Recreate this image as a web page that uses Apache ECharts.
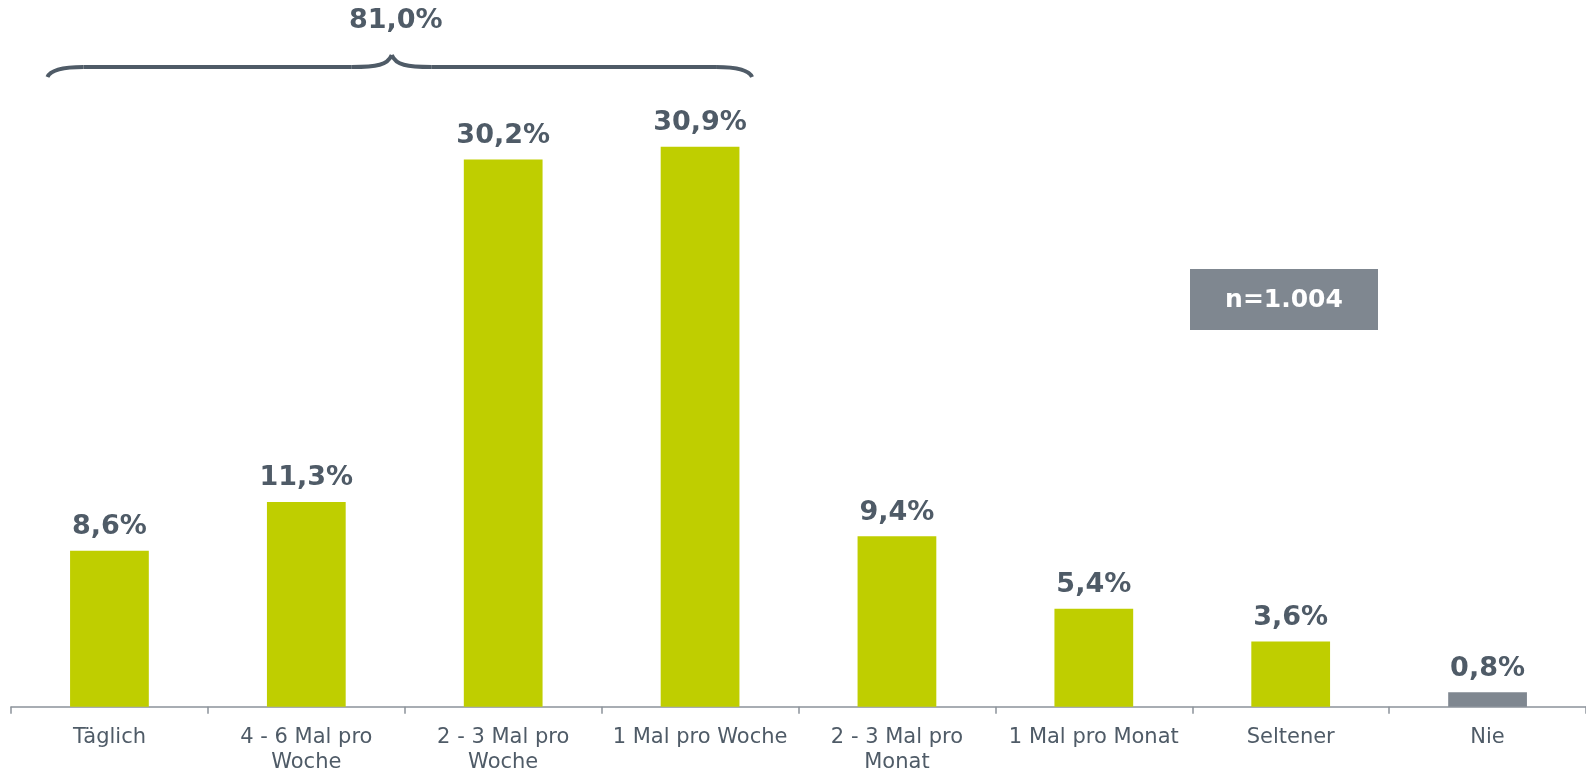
<!DOCTYPE html>
<html>
<head>
<meta charset="utf-8">
<script src="https://cdn.jsdelivr.net/npm/echarts@6/dist/echarts.min.js"></script>
<style>
  html, body { margin: 0; padding: 0; background: #fff; }
  #chart { width: 1586px; height: 771px; }
</style>
</head>
<body>
<div id="chart"></div>
<script>
// Frequency categories and their shares (percent)
const categories = [
  'Täglich',
  '4 - 6 Mal pro\nWoche',
  '2 - 3 Mal pro\nWoche',
  '1 Mal pro Woche',
  '2 - 3 Mal pro\nMonat',
  '1 Mal pro Monat',
  'Seltener',
  'Nie'
];
const shares = [8.6, 11.3, 30.2, 30.9, 9.4, 5.4, 3.6, 0.8];
// The first four categories are grouped under a brace with their total
const groupedCount = 4;
const sampleLabel = 'n=1.004';

const GREEN = '#bfce00';
const GREY_BAR = '#7f8790';
const TEXT = '#4f5b67';
const FONT = 'DejaVu Sans, Verdana, sans-serif';

const fmt = v => v.toFixed(1).replace('.', ',') + '%';
const groupTotal = shares.slice(0, groupedCount).reduce((a, b) => a + b, 0);

const chart = echarts.init(document.getElementById('chart'), null, { renderer: 'canvas' });

const option = {
  animation: false,
  backgroundColor: '#ffffff',
  grid: {
    left: 11, right: 0, top: 72.5, bottom: 64.3,
    containLabel: false,
    outerBoundsMode: 'none'
  },
  xAxis: {
    type: 'category',
    data: categories,
    boundaryGap: true,
    axisLine: { show: true, lineStyle: { color: '#8c939a', width: 1.5 } },
    axisTick: { show: true, length: 7, lineStyle: { color: '#8c939a', width: 1.5 } },
    axisLabel: {
      color: TEXT,
      fontFamily: FONT,
      fontSize: 21,
      lineHeight: 25,
      margin: 18,
      interval: 0
    }
  },
  yAxis: {
    type: 'value',
    min: 0,
    max: 35,
    show: false,
    splitLine: { show: false }
  },
  series: [{
    type: 'bar',
    data: shares.map((v, i) => ({
      value: v,
      itemStyle: { color: i === shares.length - 1 ? GREY_BAR : GREEN }
    })),
    barWidth: '40%',
    label: {
      show: true,
      position: 'top',
      distance: 10,
      color: TEXT,
      fontFamily: FONT,
      fontWeight: 'bold',
      fontSize: 27,
      formatter: p => fmt(p.value)
    }
  }]
};

chart.setOption(option);

// Brace over the grouped categories, with their total above it
function drawAnnotations() {
  const left = chart.convertToPixel({ xAxisIndex: 0 }, 0) - 62;
  const right = chart.convertToPixel({ xAxisIndex: 0 }, groupedCount - 1) + 52;
  const mid = (left + right) / 2 - 8;
  const yEnd = 77, yLine = 67, yTip = 55;
  const stroke = { fill: null, stroke: TEXT, lineWidth: 4 };

  const curve = (x1, y1, c1x, c1y, c2x, c2y, x2, y2) => ({
    type: 'bezierCurve',
    silent: true,
    shape: { x1, y1, cpx1: c1x, cpy1: c1y, cpx2: c2x, cpy2: c2y, x2, y2 },
    style: stroke
  });
  const seg = (x1, x2) => ({
    type: 'line',
    silent: true,
    shape: { x1, y1: yLine, x2, y2: yLine },
    style: stroke
  });

  chart.setOption({
    graphic: [
      curve(left, yEnd, left + 3, yLine + 3, left + 15, yLine, left + 36, yLine),
      seg(left + 36, mid - 40),
      curve(mid - 40, yLine, mid - 15, yLine, mid - 4, yLine - 2, mid, yTip),
      curve(mid, yTip, mid + 4, yLine - 2, mid + 15, yLine, mid + 40, yLine),
      seg(mid + 40, right - 36),
      curve(right - 36, yLine, right - 15, yLine, right - 3, yLine + 3, right, yEnd),
      {
        type: 'text',
        x: mid + 4,
        y: 21,
        style: {
          text: fmt(groupTotal),
          fill: TEXT,
          font: `bold 27px ${FONT}`,
          align: 'center',
          verticalAlign: 'middle'
        }
      },
      {
        type: 'group',
        x: 1190,
        y: 269,
        children: [
          {
            type: 'rect',
            shape: { x: 0, y: 0, width: 188, height: 61 },
            style: { fill: '#7f8790' }
          },
          {
            type: 'text',
            x: 94,
            y: 31,
            style: {
              text: sampleLabel,
              fill: '#ffffff',
              font: `bold 25px ${FONT}`,
              align: 'center',
              verticalAlign: 'middle'
            }
          }
        ]
      }
    ]
  });
}
drawAnnotations();
</script>
</body>
</html>
